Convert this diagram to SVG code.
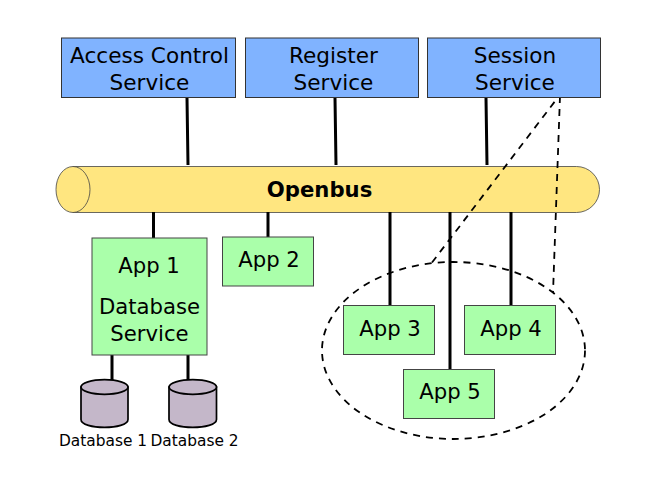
<svg xmlns="http://www.w3.org/2000/svg" width="664" height="483" viewBox="0 0 664 483">
<style>
text{font-family:"DejaVu Sans",sans-serif;fill:#000;text-anchor:middle}
.l{font-size:21.6px}
.a{font-size:21.2px}
.s{font-size:15.4px}
.svc{fill:#80b3ff;stroke:#333;stroke-width:1}
.app{fill:#aaffaa;stroke:#444;stroke-width:1}
.bus{fill:#ffe680;stroke:#444;stroke-width:.8}
.db{fill:#c4b7c9;stroke:#000;stroke-width:1.7}
.w{fill:none;stroke:#000;stroke-width:3}
.d{fill:none;stroke:#000;stroke-width:1.8;stroke-dasharray:7 6}
</style>
<g id="bus">
<path class="bus" d="M73 166.500H576.500A23 23 0 0 1 576.500 212.500H73Z"/>
<ellipse class="bus" cx="73" cy="189.500" rx="17" ry="23"/>
<text x="319.500" y="196.500" style="font-size:21.200px;font-weight:bold">Openbus</text>
</g>
<g id="connectors">
<path class="w" d="M187 98L188 165M335 98L336 165M486 98L487 165M153.500 212V238M268 212V237M390 212V305M450 212V369M511 212V305M112 355V380M188 355V380"/>
<path class="d" d="M432 262.500L559 96M560 96L553 293"/>
<ellipse class="d" cx="453.500" cy="350.500" rx="131.500" ry="88.500"/>
</g>
<g id="access-control"><rect class="svc" x="61.500" y="38" width="174" height="59.500"/><text class="l" x="149.500" y="63">Access Control</text><text class="l" x="149.500" y="90">Service</text></g>
<g id="register"><rect class="svc" x="245.500" y="38" width="173" height="59.500"/><text class="l" x="333.500" y="63">Register</text><text class="l" x="333.500" y="90">Service</text></g>
<g id="session"><rect class="svc" x="427.500" y="38" width="173" height="59.500"/><text class="l" x="515" y="63">Session</text><text class="l" x="515" y="90">Service</text></g>
<g id="app1"><rect class="app" x="92" y="238" width="115" height="117"/><text class="a" x="149" y="273">App 1</text><text class="a" x="149.500" y="314">Database</text><text class="a" x="149.500" y="341">Service</text></g>
<g id="app2"><rect class="app" x="222.500" y="237" width="91" height="49"/><text class="a" x="269" y="267">App 2</text></g>
<g id="app3"><rect class="app" x="343.500" y="305.500" width="91" height="49"/><text class="a" x="390" y="336">App 3</text></g>
<g id="app4"><rect class="app" x="464.500" y="305.500" width="91" height="49"/><text class="a" x="511" y="336">App 4</text></g>
<g id="app5"><rect class="app" x="403.500" y="369.500" width="91" height="49"/><text class="a" x="450" y="399">App 5</text></g>
<g id="db1"><path class="db" d="M81 387V419.500C81 430 128 430 128 419.500V387Z"/><ellipse class="db" cx="104.500" cy="387" rx="23.500" ry="7.300"/><text class="s" x="103" y="446">Database 1</text></g>
<g id="db2"><path class="db" d="M169 387V419.500C169 430 216.500 430 216.500 419.500V387Z"/><ellipse class="db" cx="192.800" cy="387" rx="23.700" ry="7.300"/><text class="s" x="194.500" y="446">Database 2</text></g>
</svg>
